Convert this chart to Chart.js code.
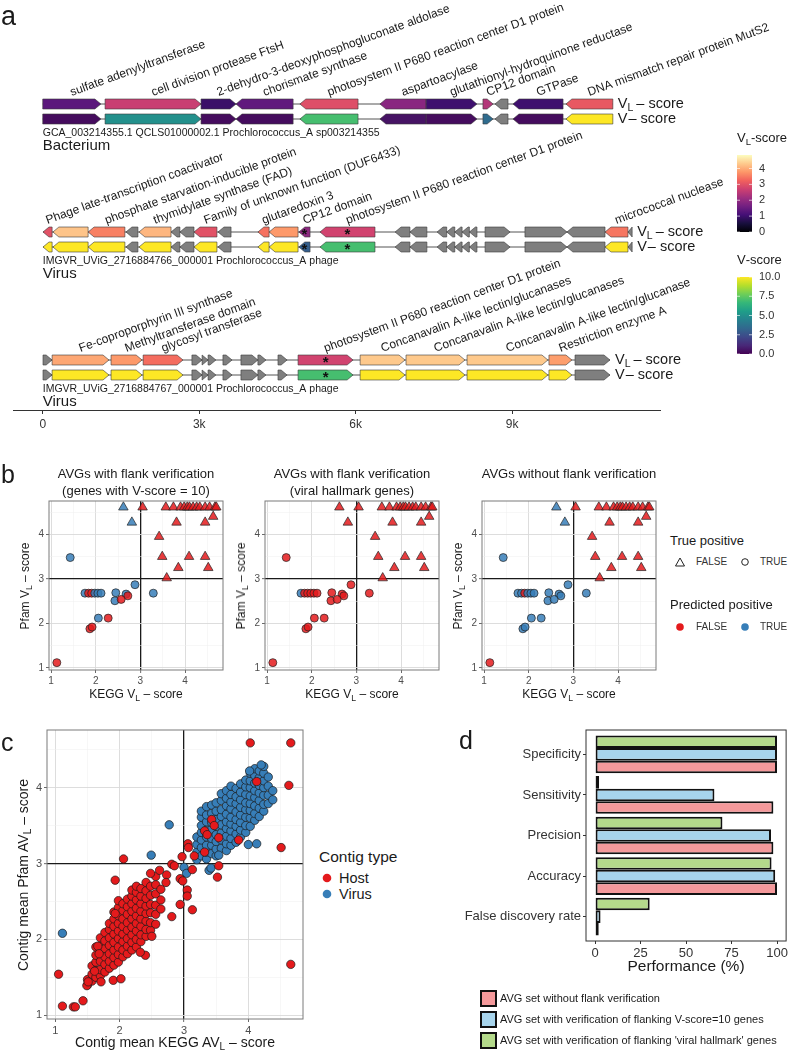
<!DOCTYPE html>
<html>
<head>
<meta charset="utf-8">
<script src="https://cdn.jsdelivr.net/npm/chart.js@4.4.1/dist/chart.umd.min.js"></script>
<style>
  body { margin: 0; background: #fff; font-family: 'Liberation Sans', Arial, sans-serif; color: #1a1a1a; }
  #page { position: relative; width: 790px; height: 1050px; overflow: hidden; }
  canvas { position: absolute; }
  .t { position: absolute; white-space: nowrap; line-height: 1; transform: translate(0, -50%); }
  .c { position: absolute; white-space: nowrap; line-height: 1; transform: translate(-50%, -50%); }
  .r { position: absolute; white-space: nowrap; line-height: 1; transform: translate(-50%, -50%) rotate(-90deg); }
  sub { font-size: 0.72em; vertical-align: -0.3em; line-height: 0; }
  .box { position: absolute; width: 13px; height: 13px; border: 2px solid #111; }
  .key { position: absolute; transform: translate(-50%, -50%); }
</style>
</head>
<body>
<div id="page">
  <canvas id="genes" width="790" height="440" style="left:0;top:0"></canvas>
  <canvas id="b1" width="230" height="260" style="left:0;top:440px"></canvas>
  <canvas id="b2" width="230" height="260" style="left:216px;top:440px"></canvas>
  <canvas id="b3" width="230" height="260" style="left:433px;top:440px"></canvas>
  <canvas id="cplot" width="310" height="350" style="left:0;top:700px"></canvas>
  <canvas id="dplot" width="350" height="260" style="left:440px;top:700px"></canvas>

  <div class="t" style="left:1px;top:16px;font-size:27px">a</div>
  <div class="t" style="left:1px;top:474px;font-size:25px">b</div>
  <div class="t" style="left:1px;top:742px;font-size:25px">c</div>
  <div class="t" style="left:459px;top:740px;font-size:25px">d</div>

  <!-- panel b titles -->
  <div class="c" style="left:136px;top:473px;font-size:13px">AVGs with flank verification</div>
  <div class="c" style="left:136px;top:490px;font-size:13px">(genes with V-score = 10)</div>
  <div class="c" style="left:352px;top:473px;font-size:13px">AVGs with flank verification</div>
  <div class="c" style="left:352px;top:490px;font-size:13px">(viral hallmark genes)</div>
  <div class="c" style="left:569px;top:473px;font-size:13px">AVGs without flank verification</div>

  <!-- panel b axis titles -->
  <div class="r" style="left:25px;top:586px;font-size:12px">Pfam V<sub>L</sub> &ndash; score</div>
  <div class="r" style="left:241px;top:586px;font-size:12px">Pfam V<sub>L</sub> &ndash; score</div>
  <div class="r" style="left:458px;top:586px;font-size:12px">Pfam V<sub>L</sub> &ndash; score</div>
  <div class="c" style="left:136px;top:694px;font-size:12px">KEGG V<sub>L</sub> &ndash; score</div>
  <div class="c" style="left:352px;top:694px;font-size:12px">KEGG V<sub>L</sub> &ndash; score</div>
  <div class="c" style="left:569px;top:694px;font-size:12px">KEGG V<sub>L</sub> &ndash; score</div>

  <!-- panel b legend -->
  <div class="t" style="left:670px;top:540px;font-size:13px">True positive</div>
  <svg class="key" style="left:680px;top:562px" width="10" height="10"><polygon points="5,1 9.5,9 0.5,9" fill="none" stroke="#222" stroke-width="1"/></svg>
  <div class="t" style="left:696px;top:562px;font-size:10px;color:#333">FALSE</div>
  <svg class="key" style="left:745px;top:562px" width="9" height="9"><circle cx="4.5" cy="4.5" r="3.3" fill="none" stroke="#222" stroke-width="1"/></svg>
  <div class="t" style="left:760px;top:562px;font-size:10px;color:#333">TRUE</div>
  <div class="t" style="left:670px;top:604px;font-size:13px">Predicted positive</div>
  <svg class="key" style="left:680px;top:627px" width="9" height="9"><circle cx="4.5" cy="4.5" r="3.8" fill="#e41a1c"/></svg>
  <div class="t" style="left:696px;top:627px;font-size:10px;color:#333">FALSE</div>
  <svg class="key" style="left:745px;top:627px" width="9" height="9"><circle cx="4.5" cy="4.5" r="3.8" fill="#377eb8"/></svg>
  <div class="t" style="left:760px;top:627px;font-size:10px;color:#333">TRUE</div>

  <!-- panel c titles and legend -->
  <div class="r" style="left:23px;top:875px;font-size:14px">Contig mean Pfam AV<sub>L</sub> &ndash; score</div>
  <div class="c" style="left:175px;top:1042px;font-size:14px">Contig mean KEGG AV<sub>L</sub> &ndash; score</div>
  <div class="t" style="left:319px;top:857px;font-size:15.5px">Contig type</div>
  <svg class="key" style="left:327px;top:878px" width="10" height="10"><circle cx="5" cy="5" r="4.3" fill="#e41a1c"/></svg>
  <div class="t" style="left:339px;top:878px;font-size:14.5px">Host</div>
  <svg class="key" style="left:327px;top:894px" width="10" height="10"><circle cx="5" cy="5" r="4.3" fill="#377eb8"/></svg>
  <div class="t" style="left:339px;top:894px;font-size:14.5px">Virus</div>

  <!-- panel d title and legend -->
  <div class="c" style="left:686px;top:966px;font-size:15.5px">Performance (%)</div>
  <div class="box" style="left:480px;top:990px;background:#f4999b"></div>
  <div class="t" style="left:500px;top:998px;font-size:11px">AVG set without flank verification</div>
  <div class="box" style="left:480px;top:1011px;background:#a7d4ec"></div>
  <div class="t" style="left:500px;top:1019px;font-size:11px">AVG set with verification of flanking V-score=10 genes</div>
  <div class="box" style="left:480px;top:1032px;background:#b4da8b"></div>
  <div class="t" style="left:500px;top:1040px;font-size:11px">AVG set with verification of flanking 'viral hallmark' genes</div>
</div>

<script>
// ---------- panel a: genes ----------
// [start bp, end bp, strand (1 = forward, -1 = reverse), VL-score, V-score, flagged, label]
const bacteriumGenes = [
  [0, 1115, 1, 1.35, 0.3, 0, 'sulfate adenylyltransferase'],
  [1195, 3035, 1, 2.65, 5.0, 0, 'cell division protease FtsH'],
  [3035, 3705, 1, 0.95, 0.3, 0, '2-dehydro-3-deoxyphosphogluconate aldolase'],
  [3705, 4800, -1, 1.4, 0.3, 0, 'chorismate synthase'],
  [4930, 6045, -1, 2.95, 7.0, 0, 'photosystem II P680 reaction center D1 protein'],
  [6465, 7350, -1, 1.9, 0.5, 0, 'aspartoacylase'],
  [7350, 8325, 1, 1.0, 0.3, 0, 'glutathionyl-hydroquinone reductase'],
  [8440, 8635, 1, 2.4, 3.5, 0, 'CP12 domain'],
  [8670, 8920, -1, null, null, 0, ''],
  [9015, 9975, -1, 1.0, 0.3, 0, 'GTPase'],
  [10030, 10930, -1, 3.1, 10, 0, 'DNA mismatch repair protein MutS2']
];
const virus1Genes = [
  [5, 180, -1, 3.0, 10, 0, 'Phage late-transcription coactivator'],
  [195, 870, -1, 4.25, 10, 0, ''],
  [870, 1575, -1, 3.55, 10, 0, 'phosphate starvation-inducible protein'],
  [1595, 1825, -1, null, null, 0, ''],
  [1845, 2460, -1, 4.1, 10, 0, 'thymidylate synthase (FAD)'],
  [2460, 2630, -1, null, null, 0, ''],
  [2630, 2900, -1, null, null, 0, ''],
  [2900, 3340, -1, 3.0, 10, 0, 'Family of unknown function (DUF6433)'],
  [3360, 3610, -1, null, null, 0, ''],
  [4125, 4340, -1, 3.4, 10, 0, 'glutaredoxin 3'],
  [4340, 4895, -1, 3.8, 10, 0, ''],
  [4910, 5125, -1, 1.95, 3.0, 1, 'CP12 domain'],
  [5315, 6370, -1, 2.75, 7.0, 1, 'photosystem II P680 reaction center D1 protein'],
  [6755, 7040, -1, null, null, 0, ''],
  [7040, 7365, -1, null, null, 0, ''],
  [7560, 7745, -1, null, null, 0, ''],
  [7745, 7900, -1, null, null, 0, ''],
  [7900, 8040, -1, null, null, 0, ''],
  [8040, 8180, -1, null, null, 0, ''],
  [8180, 8325, -1, null, null, 0, ''],
  [8480, 8960, 1, null, null, 0, ''],
  [9245, 10050, 1, null, null, 0, ''],
  [10050, 10780, -1, null, null, 0, ''],
  [10780, 11220, -1, 3.45, 10, 0, 'micrococcal nuclease'],
  [11220, 11300, -1, null, null, 0, '']
];
const virus2Genes = [
  [5, 180, 1, null, null, 0, ''],
  [180, 1270, 1, 3.95, 10, 0, 'Fe-coproporphyrin III synthase'],
  [1310, 1905, 1, 3.8, 10, 0, 'Methyltransferase domain'],
  [1925, 2690, 1, 3.35, 10, 0, 'glycosyl transferase'],
  [2860, 3055, 1, null, null, 0, ''],
  [3055, 3170, 1, null, null, 0, ''],
  [3170, 3320, 1, null, null, 0, ''],
  [3455, 3630, 1, null, null, 0, ''],
  [3800, 4125, 1, null, null, 0, ''],
  [4125, 4280, 1, null, null, 0, ''],
  [4510, 4685, 1, null, null, 0, ''],
  [4895, 5950, 1, 2.75, 7.0, 1, 'photosystem II P680 reaction center D1 protein'],
  [6085, 6945, 1, 4.3, 10, 0, 'Concanavalin A-like lectin/glucanases'],
  [6965, 8095, 1, 4.3, 10, 0, 'Concanavalin A-like lectin/glucanases'],
  [8135, 9685, 1, 4.3, 10, 0, 'Concanavalin A-like lectin/glucanase'],
  [9705, 10145, 1, 3.85, 10, 0, 'Restriction enzyme A'],
  [10205, 10875, 1, null, null, 0, '']
];
const contigNames = [
  'GCA_003214355.1 QCLS01000002.1 Prochlorococcus_A sp003214355',
  'IMGVR_UViG_2716884766_000001 Prochlorococcus_A phage',
  'IMGVR_UViG_2716884767_000001 Prochlorococcus_A phage'
];
const contigKinds = ['Bacterium', 'Virus', 'Virus'];
const genomeTicks = [0, 3000, 6000, 9000];
const vlBarTicks = [0, 1, 2, 3, 4];
const vBarTicks = [0, 2.5, 5, 7.5, 10];

// ---------- panel b: gene-level scores ----------
const keggVL = [2.62, 2.81, 3.05, 3.57, 3.74, 3.9, 3.98, 4.05, 4.1, 4.18, 4.26, 4.33, 4.45, 4.55, 4.67, 4.7,
  4.63, 3.81, 4.45, 3.42, 3.49, 4.09, 4.45, 3.85, 4.52, 3.59,
  1.43, 1.76, 1.84, 1.91, 1.98, 2.05, 2.12, 2.45, 2.68, 2.72, 2.43, 2.57, 2.88, 3.29, 2.06, 2.28, 1.87, 1.92, 1.13];
const pfamVL = [4.61, 4.27, 4.61, 4.61, 4.61, 4.61, 4.61, 4.61, 4.61, 4.61, 4.61, 4.61, 4.61, 4.61, 4.61, 4.61,
  4.40, 4.27, 4.27, 3.95, 3.5, 3.5, 3.5, 3.25, 3.25, 3.02,
  3.48, 2.68, 2.68, 2.68, 2.68, 2.68, 2.68, 2.69, 2.66, 2.62, 2.51, 2.54, 2.87, 2.68, 2.12, 2.12, 1.88, 1.92, 1.12];
const truePositive = [0, 0, 0, 0, 0, 0, 0, 0, 0, 0, 0, 0, 0, 0, 0, 0,
  0, 0, 0, 0, 0, 0, 0, 0, 0, 0,
  1, 1, 1, 1, 1, 1, 1, 1, 1, 1, 1, 1, 1, 1, 1, 1, 1, 1, 1];
const predFlankV10 = [1, 1, 0, 0, 0, 0, 0, 0, 0, 0, 0, 0, 0, 0, 0, 0,
  0, 0, 0, 0, 0, 0, 0, 0, 0, 0,
  1, 1, 0, 0, 1, 1, 1, 1, 1, 0, 1, 0, 1, 1, 1, 0, 0, 0, 0];
const predHallmark = [0, 0, 0, 0, 0, 0, 0, 0, 0, 0, 0, 0, 0, 0, 0, 0,
  0, 0, 0, 0, 0, 0, 0, 0, 0, 0,
  0, 1, 0, 0, 0, 0, 0, 0, 0, 0, 0, 0, 0, 0, 0, 0, 0, 0, 0];
const predNoFlank = [1, 1, 0, 0, 0, 0, 0, 0, 0, 0, 0, 0, 0, 0, 0, 0,
  0, 0, 0, 0, 0, 0, 0, 0, 0, 0,
  1, 1, 1, 0, 1, 1, 1, 1, 1, 1, 1, 1, 1, 1, 1, 1, 1, 1, 0];
const scoreTicks = [1, 1.5, 2, 2.5, 3, 3.5, 4, 4.5];

// ---------- panel c: contig means, columns of [KEGG, [Pfam values]] ----------
const hostColumns = [
  [1.5, [1.4, 1.47]], [1.57, [1.45, 1.54, 1.65]], [1.63, [1.5, 1.59, 1.7, 1.79, 1.9]],
  [1.7, [1.52, 1.6, 1.71, 1.82, 1.91, 2.02]], [1.77, [1.57, 1.67, 1.77, 1.88, 1.98, 2.09]],
  [1.84, [1.62, 1.71, 1.81, 1.92, 2.02, 2.13, 2.21]],
  [1.91, [1.66, 1.76, 1.86, 1.96, 2.07, 2.17, 2.27, 2.36]],
  [1.98, [1.7, 1.8, 1.9, 2.01, 2.11, 2.21, 2.31, 2.42, 2.51]],
  [2.05, [1.77, 1.86, 1.97, 2.07, 2.17, 2.27, 2.38, 2.47]],
  [2.12, [1.81, 1.91, 2.01, 2.12, 2.22, 2.33, 2.43, 2.53]],
  [2.19, [1.86, 1.96, 2.06, 2.16, 2.27, 2.37, 2.47, 2.57, 2.65]],
  [2.26, [1.9, 2.0, 2.11, 2.21, 2.31, 2.41, 2.52, 2.62, 2.7]],
  [2.33, [1.97, 2.06, 2.17, 2.27, 2.37, 2.47, 2.57, 2.67]],
  [2.41, [2.04, 2.13, 2.24, 2.34, 2.44, 2.54, 2.64, 2.75]],
  [2.48, [2.12, 2.22, 2.35, 2.46, 2.58, 2.7]], [2.56, [2.2, 2.33, 2.45, 2.6, 2.72, 2.83]],
  [2.64, [2.4, 2.52, 2.66]]
];
const hostScattered = [[4.03, 4.59], [4.66, 4.59], [4.63, 4.03], [4.13, 4.08], [3.43, 3.58], [3.47, 3.5],
  [3.54, 3.34], [3.32, 3.43], [3.36, 3.38], [3.85, 3.31], [4.51, 3.21], [4.66, 1.67], [3.32, 3.15], [3.16, 3.1],
  [3.13, 2.92], [2.97, 3.09], [3.06, 3.26], [3.07, 3.21], [3.54, 2.97], [3.52, 2.82], [3.13, 2.39], [3.05, 2.65],
  [3.05, 2.57], [2.94, 2.46], [2.94, 2.8], [2.98, 2.77], [2.81, 2.99], [2.81, 2.3], [2.85, 2.97], [2.06, 3.06],
  [1.93, 2.78], [2.73, 2.85], [1.05, 1.54], [1.11, 1.12], [1.28, 1.11], [1.31, 1.11], [1.43, 1.19], [1.49, 1.39],
  [1.51, 1.44], [1.9, 1.46], [2.02, 1.48], [2.4, 1.79], [2.32, 1.83], [1.71, 1.44], [1.61, 1.58], [1.66, 1.91],
  [1.68, 1.81], [1.93, 2.34], [2.5, 2.04], [2.48, 2.87], [2.62, 2.91], [2.72, 2.75]];
const virusColumns = [
  [3.2, [3.05, 3.15, 3.25, 3.35]], [3.27, [3.1, 3.21, 3.31, 3.41, 3.5, 3.61, 3.69]],
  [3.35, [3.06, 3.15, 3.24, 3.35, 3.44, 3.55, 3.64, 3.75]],
  [3.43, [3.13, 3.24, 3.33, 3.45, 3.54, 3.66, 3.77]],
  [3.5, [3.1, 3.19, 3.29, 3.38, 3.49, 3.58, 3.69, 3.8]],
  [3.58, [3.2, 3.31, 3.4, 3.51, 3.62, 3.71, 3.83, 3.92]],
  [3.66, [3.17, 3.26, 3.36, 3.46, 3.55, 3.65, 3.76, 3.86, 3.96]],
  [3.73, [3.24, 3.33, 3.43, 3.52, 3.61, 3.72, 3.81, 3.91, 4.02]],
  [3.81, [3.28, 3.39, 3.49, 3.58, 3.68, 3.79, 3.88, 3.99]],
  [3.88, [3.35, 3.44, 3.54, 3.64, 3.74, 3.84, 3.94, 4.05]],
  [3.96, [3.41, 3.5, 3.61, 3.71, 3.8, 3.91, 4.01, 4.1]],
  [4.03, [3.49, 3.6, 3.7, 3.79, 3.89, 4.0, 4.09, 4.19]],
  [4.1, [3.57, 3.66, 3.76, 3.87, 3.96, 4.06, 4.16, 4.25]],
  [4.17, [3.62, 3.73, 3.83, 3.93, 4.03, 4.13, 4.22]],
  [4.24, [3.69, 3.78, 3.9, 4.0, 4.09, 4.19, 4.28]],
  [4.31, [3.79, 3.9, 4.02, 4.14]], [4.38, [3.84, 3.96]]
];
const virusScattered = [[1.11, 2.08], [2.77, 3.51], [2.49, 3.11], [3.0, 2.95], [3.04, 2.87], [4.0, 3.25],
  [4.13, 3.26], [3.39, 2.91], [3.42, 2.94], [3.54, 3.11], [4.2, 4.3], [4.02, 4.22]];
const contigTicks = [1, 1.5, 2, 2.5, 3, 3.5, 4, 4.5];

// ---------- panel d: performance ----------
const metrics = ['Specificity', 'Sensitivity', 'Precision', 'Accuracy', 'False discovery rate'];
const perfNoFlank = [100, 98, 98, 100, 2];
const perfFlankV10 = [100, 65.6, 96.7, 99, 3];
const perfHallmark = [100, 2.2, 70, 97, 30];
const perfTicks = [0, 25, 50, 75, 100];

// ---------- helpers ----------
const FONT = "'Liberation Sans', Arial, sans-serif";
const RED = '#e41a1c', BLUE = '#377eb8';
const RED_A = 'rgba(228,26,28,0.85)', BLUE_A = 'rgba(55,126,184,0.85)';
const GREY = '#7f7f7f';
const VL_MAX = 4.85;
const MAGMA = ['#000004', '#180f3d', '#440f76', '#721f81', '#9e2f7f', '#cd4071', '#f1605d', '#fd9668', '#feca8d', '#fcfdbf'];
const VIRIDIS = ['#440154', '#482878', '#3e4989', '#31688e', '#26828e', '#1f9e89', '#35b779', '#6ece58', '#b5de2b', '#fde725'];

function hexRgb(h) { return [1, 3, 5].map(i => parseInt(h.slice(i, i + 2), 16)); }
function ramp(stops, t) {
  t = Math.max(0, Math.min(1, t));
  const p = t * (stops.length - 1);
  const i = Math.min(Math.floor(p), stops.length - 2), f = p - i;
  const a = hexRgb(stops[i]), b = hexRgb(stops[i + 1]);
  return 'rgb(' + a.map((v, k) => Math.round(v + (b[k] - v) * f)).join(',') + ')';
}
const isInt = v => Math.abs(v - Math.round(v)) < 1e-9;

const boxPlugin = {
  id: 'box',
  afterDatasetsDraw(chart, args, opts) {
    const a = chart.chartArea, ctx = chart.ctx;
    ctx.save();
    ctx.strokeStyle = opts.color || '#7a7a7a';
    ctx.lineWidth = opts.width || 1;
    ctx.strokeRect(a.left, a.top, a.right - a.left, a.bottom - a.top);
    ctx.restore();
  }
};

function ggAxis(min, max, vals, isY, size, fontSize) {
  return {
    type: 'linear', min, max,
    afterBuildTicks: s => { s.ticks = vals.map(v => ({ value: v })); },
    afterFit: s => { if (isY) s.width = size; else s.height = size; },
    grid: {
      color: c => !c.tick ? 'transparent' : c.tick.value === 3 ? '#1a1a1a' : isInt(c.tick.value) ? '#d9d9d9' : '#eeeeee',
      lineWidth: c => !c.tick ? 0 : c.tick.value === 3 ? 1.3 : isInt(c.tick.value) ? 0.9 : 0.5,
      tickColor: c => c.tick && isInt(c.tick.value) ? '#444' : 'rgba(0,0,0,0)',
      tickLength: 3, tickWidth: 0.8
    },
    border: { display: false },
    ticks: {
      padding: 2, color: '#4d4d4d', font: { size: fontSize, family: FONT }, autoSkip: false, maxRotation: 0,
      callback: v => isInt(v) ? String(v) : ''
    }
  };
}

// ---------- panel a chart ----------
const CONTIG_STEP = 128 / 15;
const allContigs = [bacteriumGenes, virus1Genes, virus2Genes];

function arrow(ctx, xa, xb, yc, strand, fill) {
  const h = 10, head = Math.min(6, xb - xa);
  ctx.beginPath();
  if (strand > 0) {
    ctx.moveTo(xa, yc - h / 2); ctx.lineTo(xb - head, yc - h / 2); ctx.lineTo(xb, yc);
    ctx.lineTo(xb - head, yc + h / 2); ctx.lineTo(xa, yc + h / 2);
  } else {
    ctx.moveTo(xb, yc - h / 2); ctx.lineTo(xa + head, yc - h / 2); ctx.lineTo(xa, yc);
    ctx.lineTo(xa + head, yc + h / 2); ctx.lineTo(xb, yc + h / 2);
  }
  ctx.closePath();
  ctx.fillStyle = fill; ctx.fill();
  ctx.strokeStyle = '#3a3a3a'; ctx.lineWidth = 0.6; ctx.stroke();
}

function scoreLabel(ctx, x, y, sub) {
  ctx.textBaseline = 'middle'; ctx.textAlign = 'left'; ctx.fillStyle = '#1a1a1a';
  ctx.font = '14.5px ' + FONT;
  ctx.fillText('V', x, y);
  let w = ctx.measureText('V').width;
  if (sub) {
    ctx.font = '10.5px ' + FONT;
    ctx.fillText('L', x + w, y + 4);
    w += ctx.measureText('L').width + 3;
  } else {
    w += 1;
  }
  ctx.font = '14.5px ' + FONT;
  ctx.fillText('\u2013 score', x + w, y);
}

function colorbar(ctx, x, top, bottom, stops, vmax, ticks, fmt, sub) {
  const g = ctx.createLinearGradient(0, bottom, 0, top);
  stops.forEach((c, i) => g.addColorStop(i / (stops.length - 1), c));
  ctx.fillStyle = g;
  ctx.fillRect(x, top, 15, bottom - top);
  ctx.fillStyle = '#333'; ctx.font = '11px ' + FONT; ctx.textBaseline = 'middle'; ctx.textAlign = 'left';
  ticks.forEach(v => {
    const y = bottom - (v / vmax) * (bottom - top);
    ctx.strokeStyle = 'rgba(255,255,255,0.8)'; ctx.lineWidth = 0.8;
    ctx.beginPath(); ctx.moveTo(x, y); ctx.lineTo(x + 3, y); ctx.moveTo(x + 12, y); ctx.lineTo(x + 15, y); ctx.stroke();
    ctx.fillText(fmt(v), x + 22, y);
  });
  ctx.font = '13px ' + FONT; ctx.fillStyle = '#1a1a1a';
  ctx.fillText('V', x, top - 17);
  let w = ctx.measureText('V').width;
  if (sub) { ctx.font = '9.5px ' + FONT; ctx.fillText('L', x + w, top - 13); w += ctx.measureText('L').width; ctx.font = '13px ' + FONT; }
  ctx.fillText('-score', x + w, top - 17);
}

const genePlugin = {
  id: 'genes',
  afterDraw(chart) {
    const { ctx, scales: { x, y } } = chart;
    ctx.save();
    allContigs.forEach((genes, ci) => {
      const rows = [y.getPixelForValue(ci * CONTIG_STEP), y.getPixelForValue(ci * CONTIG_STEP + 1)];
      const xs = x.getPixelForValue(genes[0][0]);
      const xe = x.getPixelForValue(genes[genes.length - 1][1]);
      ctx.strokeStyle = '#555'; ctx.lineWidth = 1;
      rows.forEach(r => { ctx.beginPath(); ctx.moveTo(xs, r); ctx.lineTo(xe, r); ctx.stroke(); });
      genes.forEach(g => {
        const xa = x.getPixelForValue(g[0]), xb = x.getPixelForValue(g[1]);
        arrow(ctx, xa, xb, rows[0], g[2], g[3] == null ? GREY : ramp(MAGMA, g[3] / VL_MAX));
        arrow(ctx, xa, xb, rows[1], g[2], g[4] == null ? GREY : ramp(VIRIDIS, g[4] / 10));
        if (g[5]) {
          ctx.fillStyle = '#111'; ctx.font = 'bold 15px ' + FONT; ctx.textAlign = 'center'; ctx.textBaseline = 'middle';
          rows.forEach(r => ctx.fillText('*', (xa + xb) / 2, r + 3));
        }
      });
      genes.forEach(g => {
        if (!g[6]) return;
        const cx = (x.getPixelForValue(g[0]) + x.getPixelForValue(g[1])) / 2;
        ctx.save();
        ctx.translate(cx, rows[0] - 8);
        ctx.rotate(-20 * Math.PI / 180);
        ctx.fillStyle = '#1a1a1a'; ctx.font = '12px ' + FONT; ctx.textAlign = 'left'; ctx.textBaseline = 'alphabetic';
        ctx.fillText(g[6], 0, 0);
        ctx.restore();
      });
      scoreLabel(ctx, xe + 5, rows[0], true);
      scoreLabel(ctx, xe + 5, rows[1], false);
      ctx.fillStyle = '#1a1a1a'; ctx.textAlign = 'left'; ctx.textBaseline = 'middle';
      ctx.font = '10.5px ' + FONT;
      ctx.fillText(contigNames[ci], x.getPixelForValue(0), rows[1] + 14);
      ctx.font = '15px ' + FONT;
      ctx.fillText(contigKinds[ci], x.getPixelForValue(0), rows[1] + 27);
    });
    colorbar(ctx, 737, 155, 232, MAGMA, VL_MAX, vlBarTicks, v => String(v), true);
    colorbar(ctx, 737, 277, 354, VIRIDIS, 10, vBarTicks, v => v.toFixed(1), false);
    ctx.restore();
  }
};

new Chart(document.getElementById('genes'), {
  type: 'scatter',
  data: { datasets: [{ data: [] }] },
  plugins: [genePlugin],
  options: {
    responsive: false, animation: false, events: [],
    layout: { padding: { left: 13, right: 130, top: 14, bottom: 0 } },
    plugins: { legend: { display: false }, tooltip: { enabled: false } },
    scales: {
      x: {
        type: 'linear', min: -570, max: 11834,
        afterBuildTicks: s => { s.ticks = genomeTicks.map(v => ({ value: v })); },
        afterFit: s => { s.height = 30; },
        grid: { drawOnChartArea: false, drawTicks: true, tickLength: 4, tickColor: '#333' },
        border: { display: true, color: '#333', width: 1 },
        ticks: { padding: 3, color: '#333', font: { size: 12, family: FONT },
          callback: v => v === 0 ? '0' : (v / 1000) + 'k' }
      },
      y: { type: 'linear', display: false, reverse: true, min: -6, max: 20.4 }
    }
  }
});

// ---------- panel b charts ----------
function scatterB(id, predicted) {
  return new Chart(document.getElementById(id), {
    type: 'scatter',
    data: {
      datasets: [{
        data: keggVL.map((v, i) => ({ x: v, y: pfamVL[i] })),
        pointStyle: c => truePositive[c.dataIndex] ? 'circle' : 'triangle',
        pointRadius: c => truePositive[c.dataIndex] ? 4 : 5.5,
        backgroundColor: c => predicted[c.dataIndex] ? BLUE_A : RED_A,
        borderColor: '#222', borderWidth: 0.7
      }]
    },
    plugins: [boxPlugin],
    options: {
      responsive: false, animation: false, events: [],
      layout: { padding: { left: 0, right: 7, top: 61, bottom: 0 } },
      plugins: { legend: { display: false }, tooltip: { enabled: false }, box: { color: '#7a7a7a' } },
      scales: {
        x: ggAxis(0.955, 4.85, scoreTicks, false, 30, 10),
        y: ggAxis(0.955, 4.75, scoreTicks, true, 49, 10)
      }
    }
  });
}
scatterB('b1', predFlankV10);
scatterB('b2', predHallmark);
scatterB('b3', predNoFlank);

// ---------- panel c chart ----------
const flat = cols => cols.flatMap(([k, ps]) => ps.map(p => ({ x: k, y: p })));
const hostData = flat(hostColumns).concat(hostScattered.map(([k, p]) => ({ x: k, y: p })));
const virusData = flat(virusColumns).concat(virusScattered.map(([k, p]) => ({ x: k, y: p })));

new Chart(document.getElementById('cplot'), {
  type: 'scatter',
  data: {
    datasets: [
      { label: 'Host', data: hostData, backgroundColor: RED, borderColor: '#1a1a1a', borderWidth: 0.7, pointRadius: 4.2 },
      { label: 'Virus', data: virusData, backgroundColor: BLUE, borderColor: '#1a1a1a', borderWidth: 0.7, pointRadius: 4.2 }
    ]
  },
  plugins: [boxPlugin],
  options: {
    responsive: false, animation: false, events: [],
    layout: { padding: { left: 0, right: 7, top: 30, bottom: 0 } },
    plugins: { legend: { display: false }, tooltip: { enabled: false }, box: { color: '#7a7a7a' } },
    scales: {
      x: ggAxis(0.87, 4.85, contigTicks, false, 31, 11),
      y: ggAxis(0.95, 4.76, contigTicks, true, 47, 11)
    }
  }
});

// ---------- panel d chart ----------
const barSet = (label, vals, fill) => ({
  label, data: vals.map((v, i) => ({ x: v, y: i })), backgroundColor: fill,
  borderColor: '#111', borderWidth: 2, borderSkipped: false,
  categoryPercentage: 0.93, barPercentage: 1
});
new Chart(document.getElementById('dplot'), {
  type: 'bar',
  data: {
    datasets: [
      barSet("AVG set with verification of flanking 'viral hallmark' genes", perfHallmark, '#b4da8b'),
      barSet('AVG set with verification of flanking V-score=10 genes', perfFlankV10, '#a7d4ec'),
      barSet('AVG set without flank verification', perfNoFlank, '#f4999b')
    ]
  },
  plugins: [boxPlugin],
  options: {
    indexAxis: 'y',
    responsive: false, animation: false, events: [],
    layout: { padding: { left: 0, right: 3, top: 30, bottom: 0 } },
    plugins: { legend: { display: false }, tooltip: { enabled: false }, box: { color: '#333' } },
    scales: {
      x: {
        type: 'linear', min: -5, max: 105,
        afterBuildTicks: s => { s.ticks = perfTicks.map(v => ({ value: v })); },
        afterFit: s => { s.height = 19; },
        grid: { drawOnChartArea: false, tickLength: 3, tickColor: '#333' },
        border: { display: false },
        ticks: { padding: 2, color: '#333', font: { size: 13, family: FONT }, maxRotation: 0, autoSkip: false }
      },
      y: {
        type: 'linear', reverse: true, min: -0.6, max: 4.6, offset: false,
        afterBuildTicks: s => { s.ticks = metrics.map((m, i) => ({ value: i })); },
        afterFit: s => { s.width = 146; },
        grid: { drawOnChartArea: false, offset: false, tickLength: 3, tickColor: '#333' },
        border: { display: false },
        ticks: { padding: 2, color: '#333', font: { size: 13, family: FONT }, autoSkip: false,
          callback: v => metrics[v] || '' }
      }
    }
  }
});
</script>
</body>
</html>
